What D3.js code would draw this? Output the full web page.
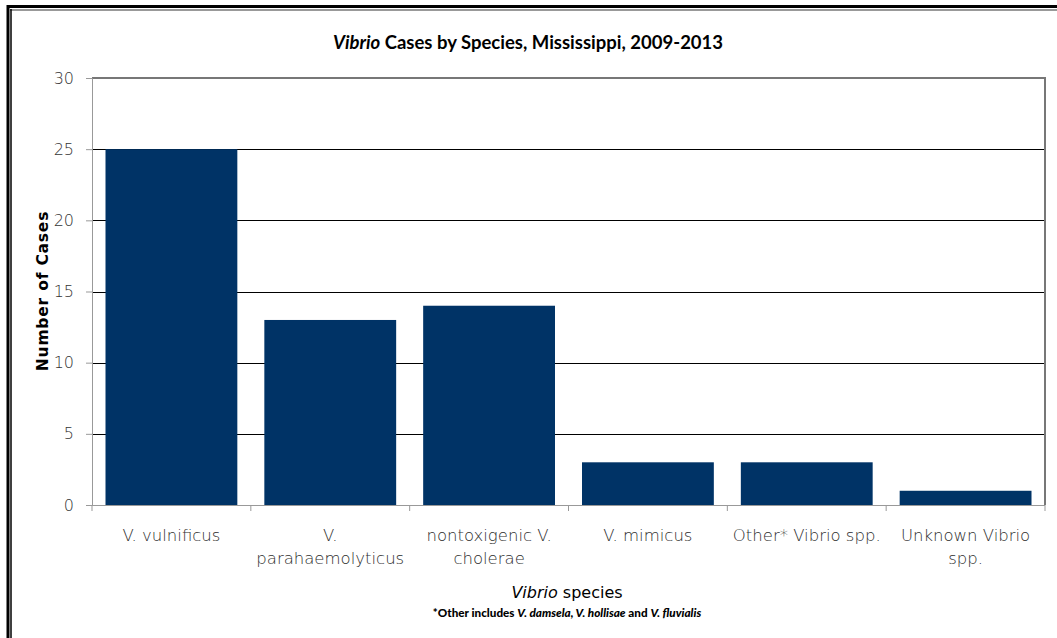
<!DOCTYPE html>
<html><head><meta charset="utf-8">
<script src="https://cdn.jsdelivr.net/npm/d3@7"></script>
<style>
body{margin:0;background:#fff;}
svg{display:block;font-family:"DejaVu Sans",sans-serif;}
</style></head>
<body>
<script>
const categories = [
  ["V. vulnificus"],
  ["V.", "parahaemolyticus"],
  ["nontoxigenic V.", "cholerae"],
  ["V. mimicus"],
  ["Other* Vibrio spp."],
  ["Unknown Vibrio", "spp."]
];
const values = [25, 13, 14, 3, 3, 1];
const yTicks = [0, 5, 10, 15, 20, 25, 30];

const W = 1057, H = 638;
const m = {left: 92, right: 1045, top: 78, bottom: 505};

const svg = d3.select("body").append("svg").attr("width", W).attr("height", H);

// outer frame (top + left double border)
svg.append("line").attr("x1", 8).attr("x2", W).attr("y1", 6.5).attr("y2", 6.5).attr("stroke", "#000").attr("stroke-width", 3);
svg.append("line").attr("x1", 10).attr("x2", W).attr("y1", 10).attr("y2", 10).attr("stroke", "#777").attr("stroke-width", 1.5);
svg.append("line").attr("x1", 8).attr("x2", 8).attr("y1", 5).attr("y2", H).attr("stroke", "#000").attr("stroke-width", 3);
svg.append("line").attr("x1", 11).attr("x2", 11).attr("y1", 9).attr("y2", H).attr("stroke", "#000").attr("stroke-width", 1.5);

const x = d3.scaleBand().domain(d3.range(categories.length)).range([m.left, m.right]).paddingInner(0.17).paddingOuter(0.085);
const xb = d3.scaleBand().domain(d3.range(categories.length)).range([m.left, m.right]);
const y = d3.scaleLinear().domain([0, 30]).range([m.bottom, m.top]);

// gridlines
svg.append("g").selectAll("line").data(yTicks.filter(t => t > 0 && t < 30)).join("line")
  .attr("x1", m.left).attr("x2", m.right)
  .attr("y1", d => Math.round(y(d)) + 0.5).attr("y2", d => Math.round(y(d)) + 0.5)
  .attr("stroke", "#000").attr("stroke-width", 1);

// plot area top/right border
svg.append("path")
  .attr("d", `M${m.left},${y(30)}H${m.right}V${m.bottom}`)
  .attr("fill", "none").attr("stroke", "#777").attr("stroke-width", 2);

// bars
svg.append("g").selectAll("rect").data(values).join("rect")
  .attr("x", (d, i) => x(i)).attr("width", x.bandwidth())
  .attr("y", d => y(d)).attr("height", d => y(0) - y(d))
  .attr("fill", "#003366");

// y axis
const yAxis = svg.append("g").attr("transform", `translate(${m.left},0)`)
  .call(d3.axisLeft(y).tickValues(yTicks).tickSize(6).tickPadding(12));
yAxis.select(".domain").attr("stroke", "#999");
yAxis.selectAll(".tick line").attr("stroke", "#999");
yAxis.selectAll("text").attr("fill", "#333").attr("font-size", 16).attr("font-weight", 200)
  .attr("font-family", "'DejaVu Sans', sans-serif");

// x axis
const xAxis = svg.append("g").attr("transform", `translate(0,${m.bottom})`);
xAxis.append("line").attr("x1", m.left).attr("x2", m.right).attr("y1", 0.5).attr("y2", 0.5).attr("stroke", "#999");
xAxis.selectAll(".xt").data(d3.range(categories.length + 1)).join("line")
  .attr("class", "xt")
  .attr("x1", i => i < categories.length ? xb(i) : m.right)
  .attr("x2", i => i < categories.length ? xb(i) : m.right)
  .attr("y1", 0).attr("y2", 6).attr("stroke", "#999");

const labels = svg.append("g").selectAll("text").data(categories).join("text")
  .attr("x", (d, i) => xb(i) + xb.bandwidth() / 2)
  .attr("y", 541)
  .attr("text-anchor", "middle").attr("fill", "#2e2e2e").attr("font-size", 16.5).attr("font-weight", 200);
labels.selectAll("tspan").data(d => d).join("tspan")
  .attr("x", function() { return this.parentNode.getAttribute("x"); })
  .attr("dy", (d, j) => j === 0 ? 0 : 23)
  .text(d => d);

// title
const title = svg.append("text").attr("x", 528).attr("y", 49).attr("text-anchor", "middle")
  .attr("font-family", "Lato, sans-serif")
  .attr("font-size", 18.5).attr("font-weight", "bold").attr("fill", "#000");
title.append("tspan").attr("font-style", "italic").text("Vibrio");
title.append("tspan").text(" Cases by Species, Mississippi, 2009-2013");

// y axis title
svg.append("text").attr("transform", `translate(48,291) rotate(-90)`)
  .attr("text-anchor", "middle").attr("font-size", 15.5).attr("font-weight", "bold").attr("fill", "#000")
  .attr("letter-spacing", 0.8)
  .text("Number of Cases");

// x axis title
const xt = svg.append("text").attr("x", 567).attr("y", 598).attr("text-anchor", "middle")
  .attr("font-size", 16).attr("fill", "#000");
xt.append("tspan").attr("font-style", "italic").text("Vibrio");
xt.append("tspan").text(" species");

// footnote
const fn = svg.append("text").attr("x", 567).attr("y", 617).attr("text-anchor", "middle")
  .attr("font-family", "Lato, sans-serif")
  .attr("font-size", 11.7).attr("font-weight", "900").attr("fill", "#000");
fn.append("tspan").text("*Other includes ");
fn.append("tspan").attr("font-style", "italic").text("V. damsela, V. hollisae");
fn.append("tspan").text(" and ");
fn.append("tspan").attr("font-style", "italic").text("V. fluvialis");
</script>
</body></html>
